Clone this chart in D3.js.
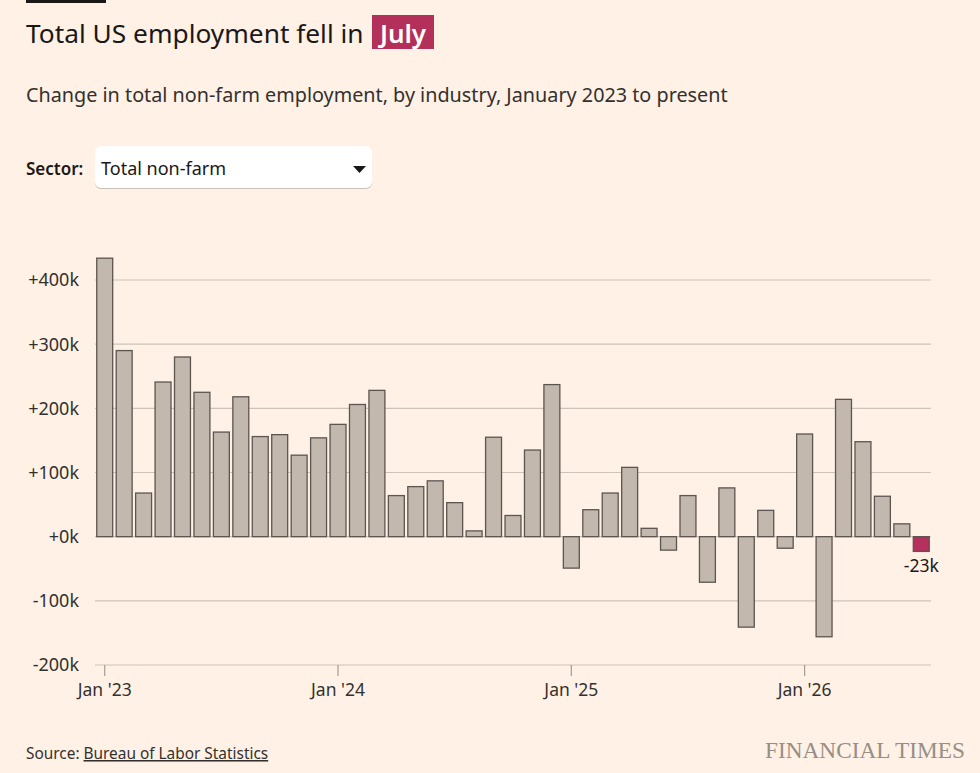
<!DOCTYPE html>
<html>
<head>
<meta charset="utf-8">
<script src="https://cdn.jsdelivr.net/npm/d3@7"></script>
<style>
  body { margin: 0; background: #fff1e5; }
  svg { display: block; }
  text { font-family: "Noto Sans", sans-serif; fill: #1a1817; }
</style>
</head>
<body>
<div id="chart"></div>
<script>
var WIDTH = 980, HEIGHT = 773;

// months, Jan 2023 .. Jul 2026
var months = [
  "2023-01","2023-02","2023-03","2023-04","2023-05","2023-06","2023-07","2023-08","2023-09","2023-10","2023-11","2023-12",
  "2024-01","2024-02","2024-03","2024-04","2024-05","2024-06","2024-07","2024-08","2024-09","2024-10","2024-11","2024-12",
  "2025-01","2025-02","2025-03","2025-04","2025-05","2025-06","2025-07","2025-08","2025-09","2025-10","2025-11","2025-12",
  "2026-01","2026-02","2026-03","2026-04","2026-05","2026-06","2026-07"
];

// change in jobs, thousands
var jobChange = [
  434, 290, 68, 241, 280, 225, 163, 218, 156, 159, 127, 154,
  175, 206, 228, 64, 78, 87, 53, 9, 155, 33, 135, 237,
  -49, 42, 68, 108, 13, -21, 64, -71, 76, -141, 41, -18,
  160, -156, 214, 148, 63, 20, -23
];

var yTicks = [-200, -100, 0, 100, 200, 300, 400];
var xTickMonths = ["2023-01", "2024-01", "2025-01", "2026-01"];
var xTickLabels = ["Jan '23", "Jan '24", "Jan '25", "Jan '26"];

var data = months.map(function(m, i) { return { month: m, value: jobChange[i] }; });

var svg = d3.select("#chart").append("svg")
    .attr("width", WIDTH)
    .attr("height", HEIGHT);

svg.append("rect").attr("width", WIDTH).attr("height", HEIGHT).attr("fill", "#fff1e5");

// little black bar at the top
svg.append("rect").attr("x", 26).attr("y", 0).attr("width", 80).attr("height", 3).attr("fill", "#1a1817");

// title
svg.append("text")
    .attr("x", 26).attr("y", 43)
    .attr("font-size", 26.3)
    .text("Total US employment fell in");
svg.append("rect")
    .attr("x", 372).attr("y", 15).attr("width", 62).attr("height", 34)
    .attr("fill", "#b3305a");
svg.append("text")
    .attr("x", 403).attr("y", 43)
    .attr("text-anchor", "middle")
    .attr("font-size", 26)
    .attr("font-weight", 600)
    .style("fill", "#fff")
    .text("July");

svg.append("text")
    .attr("x", 26).attr("y", 102)
    .attr("font-size", 19.8)
    .style("fill", "#33302e")
    .text("Change in total non-farm employment, by industry, January 2023 to present");

// sector dropdown
svg.append("text")
    .attr("x", 26).attr("y", 175)
    .attr("font-size", 17)
    .attr("font-weight", 600)
    .text("Sector:");
svg.append("rect")
    .attr("x", 95).attr("y", 148).attr("width", 277).attr("height", 41).attr("rx", 6)
    .attr("fill", "#c9c1b9");
svg.append("rect")
    .attr("x", 95).attr("y", 146).attr("width", 277).attr("height", 42).attr("rx", 6)
    .attr("fill", "#fff");
svg.append("text")
    .attr("x", 101).attr("y", 175)
    .attr("font-size", 18)
    .text("Total non-farm");
svg.append("path")
    .attr("d", "M353,166 L366,166 L359.5,173 Z")
    .attr("fill", "#1a1817");

// scales
var x = d3.scaleBand()
    .domain(months)
    .range([95, 931])
    .paddingInner(0.18)
    .paddingOuter(0.09);

var y = d3.scaleLinear()
    .domain([-200, 400])
    .range([665, 280]);

// gridlines
svg.append("g")
    .selectAll("line")
    .data(yTicks)
    .enter()
    .append("line")
        .attr("x1", 95).attr("x2", 931)
        .attr("y1", function(d) { return y(d); })
        .attr("y2", function(d) { return y(d); })
        .attr("stroke", "#cdc3b9")
        .attr("stroke-width", 1.2);

// y labels
svg.append("g")
    .selectAll("text")
    .data(yTicks)
    .enter()
    .append("text")
        .attr("x", 79)
        .attr("y", function(d) { return y(d); })
        .attr("dy", "0.36em")
        .attr("text-anchor", "end")
        .attr("font-size", 18)
        .style("fill", "#33302e")
        .text(function(d) { return (d < 0 ? "-" : "+") + Math.abs(d) + "k"; });

// x axis ticks
var xAxis = svg.append("g");
xAxis.selectAll("line")
    .data(xTickMonths)
    .enter()
    .append("line")
        .attr("x1", function(d) { return x(d) + x.bandwidth() / 2; })
        .attr("x2", function(d) { return x(d) + x.bandwidth() / 2; })
        .attr("y1", y(-200)).attr("y2", y(-200) + 11)
        .attr("stroke", "#a59c94")
        .attr("stroke-width", 1.2);
xAxis.selectAll("text")
    .data(xTickMonths)
    .enter()
    .append("text")
        .attr("x", function(d) { return x(d) + x.bandwidth() / 2; })
        .attr("y", 696)
        .attr("text-anchor", "middle")
        .attr("font-size", 17.5)
        .style("fill", "#33302e")
        .text(function(d, i) { return xTickLabels[i]; });

// bars
var last = months[months.length - 1];
svg.append("g")
    .selectAll("rect")
    .data(data)
    .enter()
    .append("rect")
        .attr("x", function(d) { return x(d.month); })
        .attr("y", function(d) { return y(Math.max(0, d.value)); })
        .attr("width", x.bandwidth())
        .attr("height", function(d) { return Math.abs(y(d.value) - y(0)); })
        .attr("fill", function(d) { return d.month === last ? "#b5305c" : "#c2b8ae"; })
        .attr("stroke", "#5c5550")
        .attr("stroke-width", 1.3);

// label for latest value
var lastDatum = data[data.length - 1];
svg.append("text")
    .attr("x", x(lastDatum.month) + x.bandwidth() / 2)
    .attr("y", y(lastDatum.value) + 21)
    .attr("text-anchor", "middle")
    .attr("font-size", 17.5)
    .text(lastDatum.value + "k");

// footer
var src = svg.append("text")
    .attr("x", 26).attr("y", 759)
    .attr("font-size", 15.4)
    .style("fill", "#33302e");
src.append("tspan").text("Source: ");
src.append("tspan").attr("text-decoration", "underline").text("Bureau of Labor Statistics");

svg.append("text")
    .attr("x", 965).attr("y", 758)
    .attr("text-anchor", "end")
    .style("font-family", "'Liberation Serif', serif")
    .attr("font-size", 23)
    .attr("textLength", 200)
    .attr("lengthAdjust", "spacingAndGlyphs")
    .style("fill", "#978e86")
    .text("FINANCIAL TIMES");
</script>
</body>
</html>
